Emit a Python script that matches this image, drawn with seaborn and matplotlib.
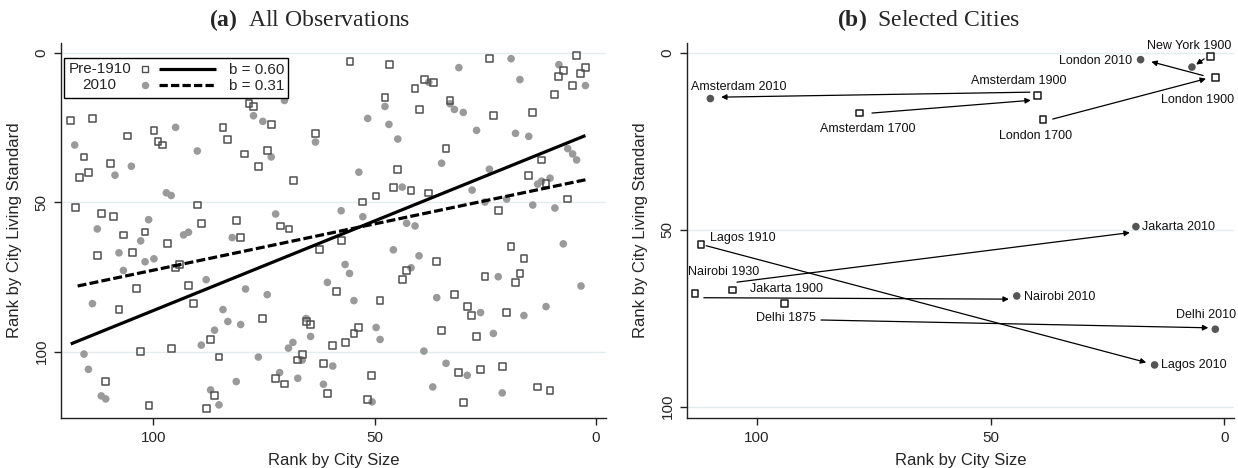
import numpy as np
import pandas as pd
import matplotlib
matplotlib.use("Agg")
import matplotlib.pyplot as plt
import seaborn as sns
from matplotlib.lines import Line2D
from matplotlib.text import Text
from matplotlib.legend_handler import HandlerBase

# === (a) kõik vaatlused: (suuruse järk, elatustaseme järk) ===
pre_size = [78.4, 77.4, 118.7, 113.7, 99.9, 84.3, 73.4, 105.8, 99.0, 98.0, 83.2, 63.4,
            115.7, 109.7, 79.4, 74.3, 114.6, 116.7, 76.3, 68.3, 117.7, 90.1, 111.7, 109.0,
            55.6, 46.7, 24.1, 4.4, 7.3, 8.4, 2.4, 3.5, 5.4, 38.8, 36.7, 40.9, 47.7, 33.0,
            9.3, 39.9, 23.1, 14.3, 33.9, 12.3, 44.8, 15.2, 45.8, 41.8, 37.9, 11.3, 52.7,
            49.7, 22.1, 6.4,
            89.1, 81.3, 71.3, 69.4, 106.8, 101.9, 96.9, 80.3, 112.7, 104.8, 95.0, 94.1,
            62.5, 103.9, 92.0, 91.0, 107.8, 75.3, 65.5, 64.5, 87.1, 102.9, 96.0, 85.2,
            67.4, 66.4, 61.6, 110.8, 72.4, 70.4, 60.7, 86.2, 101.0, 88.1,
            57.6, 19.2, 16.3, 36.0, 42.9, 43.8, 25.1, 17.2, 18.2, 58.6, 48.8, 32.0, 29.1,
            28.1, 20.2, 35.0, 27.1, 53.7, 54.7, 56.7, 59.5, 50.7, 51.7, 31.0, 26.1, 21.2,
            30.0, 13.3, 10.4]
pre_living = [16.8, 17.9, 22.7, 21.9, 25.9, 24.9, 24.0, 27.8, 29.7, 30.8, 28.9, 26.9,
              34.8, 36.9, 33.8, 32.7, 39.9, 41.7, 38.0, 42.8, 51.7, 50.9, 53.8, 54.7,
              2.9, 3.9, 1.9, 0.9, 5.9, 7.8, 4.9, 6.9, 10.9, 8.9, 9.8, 12.0, 14.9, 15.9,
              13.9, 18.9, 20.9, 19.9, 32.0, 35.8, 38.9, 40.9, 44.9, 45.9, 46.9, 43.8, 49.9,
              47.9, 52.8, 48.9,
              57.0, 56.2, 57.9, 58.9, 60.9, 59.9, 63.9, 61.8, 67.8, 66.9, 72.0, 70.9,
              65.9, 78.9, 77.9, 84.0, 85.9, 88.9, 89.9, 90.9, 95.8, 100.0, 98.8, 101.8,
              102.8, 101.0, 103.9, 110.0, 109.0, 110.8, 113.9, 114.8, 117.9, 118.9,
              62.9, 64.9, 68.9, 69.9, 72.8, 75.9, 74.9, 73.9, 76.8, 79.9, 82.9, 80.9, 84.9,
              87.9, 86.9, 92.8, 94.8, 91.9, 93.9, 96.9, 98.0, 107.9, 115.9, 106.9, 105.9, 104.9,
              116.9, 111.8, 112.9]

now_size = [70.4, 77.4, 75.3, 95.0, 63.4, 117.8, 90.1, 73.4, 105.0, 108.7, 97.1, 96.0, 72.4,
            31.0, 19.2, 8.4, 2.4, 17.2, 37.8, 47.7, 33.0, 32.0, 30.0, 51.6, 46.8, 44.8,
            27.0, 18.2, 15.2, 6.4, 5.3, 4.4, 34.9, 24.1, 53.6, 43.8, 28.0, 13.2, 12.3,
            10.4, 25.1, 20.2, 14.3, 9.3, 57.6, 52.7,
            101.1, 112.7, 102.9, 93.2, 92.1, 82.2, 107.8, 101.9, 99.9, 106.8, 88.1, 79.2,
            74.3, 113.8, 84.3, 83.2, 80.3, 86.2, 89.2, 65.5, 64.5, 69.5, 68.5, 60.7, 115.7,
            114.7, 76.3, 66.4, 81.3, 71.5, 67.4, 61.6, 111.8, 110.8, 87.1, 85.2,
            42.8, 40.9, 45.8, 40.0, 41.8, 56.7, 55.7, 54.7, 36.0, 22.1, 7.4, 3.4, 26.1,
            16.3, 11.3, 23.2, 49.7, 48.8, 38.9, 59.5, 33.9, 29.1, 36.9, 21.2, 50.6]
now_living = [15.9, 21.0, 22.9, 24.9, 29.8, 30.8, 32.8, 34.8, 37.9, 40.9, 46.8, 47.7, 53.9,
              4.9, 1.9, 3.9, 10.9, 8.9, 9.8, 17.9, 17.0, 18.9, 19.9, 21.9, 23.9, 28.8,
              25.9, 26.9, 27.9, 32.0, 33.8, 35.8, 36.9, 38.9, 39.9, 44.9, 45.9, 43.9, 42.9,
              41.9, 49.9, 48.9, 50.9, 51.9, 52.8, 54.8,
              55.8, 58.9, 62.9, 60.9, 60.0, 61.8, 66.9, 69.9, 68.9, 72.8, 75.9, 79.0,
              80.9, 83.9, 85.9, 89.9, 90.9, 92.8, 97.8, 88.9, 94.9, 98.8, 96.9, 76.8, 100.8,
              105.9, 101.8, 102.8, 110.0, 107.0, 108.9, 110.9, 114.8, 115.8, 112.8, 117.8,
              57.0, 57.9, 65.9, 67.9, 71.9, 70.8, 73.8, 82.9, 81.9, 74.9, 63.9, 78.0, 86.9,
              87.9, 84.9, 93.9, 91.9, 95.9, 99.8, 104.8, 103.9, 107.9, 111.8, 113.8, 116.8]

# regressioonisirged: vabaliige ja tõus
fit_names = ["Pre-1910", "2010"]
fit_intercept = [26.2, 41.7]
fit_slope = [0.60, 0.31]

# === (b) valitud linnad ===
city_labels = ["Amsterdam 1700", "Amsterdam 1900", "Amsterdam 2010", "London 1700",
               "London 1900", "London 2010", "New York 1900", "", "Lagos 1910",
               "Lagos 2010", "Nairobi 1930", "Nairobi 2010", "Jakarta 1900",
               "Jakarta 2010", "Delhi 1875", "Delhi 2010"]
city_size = [78.0, 40.0, 110.0, 38.8, 1.9, 17.9, 2.9, 6.9, 112.0, 14.9, 113.3, 44.4,
             105.3, 18.9, 94.2, 1.9]
city_living = [17.0, 12.0, 12.9, 18.9, 6.9, 1.9, 1.0, 4.0, 54.1, 88.2, 67.9, 68.7,
               67.0, 49.1, 70.9, 78.1]
city_period = ["pre", "pre", "2010", "pre", "pre", "2010", "pre", "2010", "pre", "2010",
               "pre", "2010", "pre", "2010", "pre", "2010"]
label_x = [76.4, 43.9, 103.9, 40.3, 5.8, 27.5, 7.5, None, 110.0, 13.6, 107.1, 42.9,
           93.6, 17.6, 93.8, 3.9]
label_y = [21.5, 8.0, 9.6, 23.6, 13.2, 2.2, -1.9, None, 52.2, 88.2, 61.8, 68.9,
           66.6, 49.1, 74.9, 74.2]
label_ha = ["center", "center", "center", "center", "center", "center", "center", None,
            "left", "left", "center", "left", "center", "left", "center", "center"]

# nooled (algus -> lõpp)
arrow_x0 = [75.4, 41.6, 36.7, 4.5, 4.3, 110.9, 111.4, 104.3, 86.3]
arrow_y0 = [17.0, 11.1, 18.7, 6.4, 1.7, 54.5, 69.2, 64.8, 75.5]
arrow_x1 = [41.4, 107.7, 3.9, 15.6, 6.0, 16.7, 46.1, 20.2, 3.4]
arrow_y1 = [13.4, 12.5, 7.3, 2.5, 3.3, 87.5, 69.6, 50.8, 77.7]

# === Stiil ===
sns.set_style("ticks")
plt.rcParams['font.family'] = ['Liberation Sans', 'DejaVu Sans']
plt.rcParams['mathtext.fontset'] = 'custom'
plt.rcParams['mathtext.bf'] = 'Liberation Serif:bold'
plt.rcParams['mathtext.rm'] = 'Liberation Serif'

W, H = 1238, 468
fig = plt.figure(figsize=(W / 100, H / 100), dpi=100)
ax1 = fig.add_axes([61 / W, 1 - 418 / H, (606 - 61) / W, (418 - 43) / H])
ax2 = fig.add_axes([687 / W, 1 - 418 / H, (1234 - 687) / W, (418 - 43) / H])

grid_col = "#E3ECEF"
sq_edge = "#505050"
dot_col = "#9A9A9A"


def style_axis(ax, xlim, ylim):
    ax.set_xlim(*xlim)
    ax.set_ylim(*ylim)
    ax.set_xticks([100, 50, 0])
    ax.set_yticks([0, 50, 100])
    for y in [0, 50, 100]:
        ax.axhline(y, color=grid_col, lw=1.0, zorder=0)
    sns.despine(ax=ax)
    for sp in ["left", "bottom"]:
        ax.spines[sp].set_color("#222222")
        ax.spines[sp].set_linewidth(1.0)
    ax.tick_params(axis="both", direction="out", length=5, width=1, color="#222222",
                   labelsize=11, pad=4)
    ax.tick_params(axis="y", labelrotation=90)
    for lab in ax.get_yticklabels():
        lab.set_va("center")
    ax.set_xlabel("Rank by City Size", fontsize=12, labelpad=6)
    ax.set_ylabel("Rank by City Living Standard", fontsize=12, labelpad=9)


# --- paneel (a) ---
pre_df = pd.DataFrame({"size": pre_size, "living": pre_living})
now_df = pd.DataFrame({"size": now_size, "living": now_living})
sns.scatterplot(data=now_df, x="size", y="living", marker="o", s=30, color=dot_col,
                edgecolor="none", ax=ax1, zorder=2)
sns.scatterplot(data=pre_df, x="size", y="living", marker="s", s=24, facecolor="none",
                edgecolor=sq_edge, linewidth=1.1, ax=ax1, zorder=2)

fit_styles = ["-", (0, (2.8, 1.0))]
for df, a, b, ls in zip([pre_df, now_df], fit_intercept, fit_slope, fit_styles):
    xs = np.array([df["size"].min(), df["size"].max()])
    ax1.plot(xs, a + b * xs, color="black", lw=2.3, ls=ls, zorder=3,
             solid_capstyle="butt", dash_capstyle="butt")

style_axis(ax1, (120.9, -2.25), (122.2, -3.35))


class LegendRow(HandlerBase):
    def __init__(self, name, marker_kw, line_kw):
        super().__init__()
        self.name = name
        self.marker_kw = marker_kw
        self.line_kw = line_kw

    def create_artists(self, legend, orig_handle, xdescent, ydescent, width, height,
                       fontsize, trans):
        y = height / 2 - ydescent
        x0 = -xdescent
        t = Text(x0 + 0.21 * width, y, self.name, ha="center", va="center",
                 fontsize=fontsize, transform=trans)
        m = Line2D([x0 + 0.52 * width], [y], transform=trans, ls="none", **self.marker_kw)
        ln = Line2D([x0 + 0.615 * width, x0 + width], [y, y], transform=trans,
                    color="black", lw=2.3, solid_capstyle="butt", dash_capstyle="butt",
                    **self.line_kw)
        return [t, m, ln]


h_pre = Line2D([], [])
h_now = Line2D([], [])
leg_handles = [h_pre, h_now]
leg_labels = [f"b = {b:.2f}" for b in fit_slope]
handler_map = {
    h_pre: LegendRow(fit_names[0], dict(marker="s", markersize=4.6, mfc="none",
                                        mec=sq_edge, mew=1.0), dict(ls="-")),
    h_now: LegendRow(fit_names[1], dict(marker="o", markersize=5.4, mfc=dot_col,
                                        mec="none"), dict(ls=(0, (2.6, 1.0)))),
}
leg = ax1.legend(leg_handles, leg_labels, handler_map=handler_map, loc="upper left",
                 bbox_to_anchor=(0.006, 0.959), borderaxespad=0, fontsize=11,
                 handlelength=9.6, handletextpad=0.85, borderpad=0.3, labelspacing=0.15,
                 frameon=True, fancybox=False, framealpha=1, edgecolor="black")
leg.get_frame().set_linewidth(1.0)
leg.set_zorder(5)

# --- paneel (b) ---
city_df = pd.DataFrame({"size": city_size, "living": city_living, "period": city_period})
for i in range(len(arrow_x0)):
    ax2.annotate("", xy=(arrow_x1[i], arrow_y1[i]), xytext=(arrow_x0[i], arrow_y0[i]),
                 arrowprops=dict(arrowstyle="-|>", color="black", lw=0.9,
                                 shrinkA=0, shrinkB=0, mutation_scale=8), zorder=3)
sns.scatterplot(data=city_df[city_df["period"] == "2010"], x="size", y="living",
                marker="o", s=30, color="#555555", edgecolor="none", ax=ax2, zorder=4)
sns.scatterplot(data=city_df[city_df["period"] == "pre"], x="size", y="living",
                marker="s", s=24, facecolor="none", edgecolor="#1a1a1a", linewidth=1.1,
                ax=ax2, zorder=4)
for lab, lx, ly, ha in zip(city_labels, label_x, label_y, label_ha):
    if lab:
        ax2.text(lx, ly, lab, ha=ha, va="center", fontsize=9, color="#111111", zorder=5)

style_axis(ax2, (115.0, -2.1), (103.2, -2.8))

# --- pealkirjad ---
fig.text(0.25, 0.957, r"$\mathbf{(a)}$  All Observations", ha="center", va="center",
         fontsize=17, family="Liberation Serif")
fig.text(0.75, 0.957, r"$\mathbf{(b)}$  Selected Cities", ha="center", va="center",
         fontsize=17, family="Liberation Serif")

fig.savefig("out.png", dpi=100)
